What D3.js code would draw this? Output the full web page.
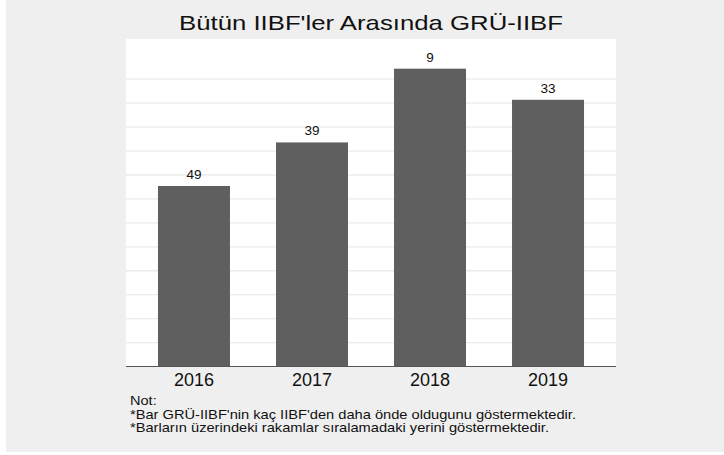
<!DOCTYPE html>
<html><head><meta charset="utf-8">
<script src="https://cdn.jsdelivr.net/npm/d3@7"></script>
<style>body{margin:0;background:#fff}svg{display:block}</style>
</head><body><svg id="c" width="724" height="455"></svg>
<script>
const years = ["2016","2017","2018","2019"];
const ahead = [37.7, 46.8, 62.2, 55.7];
const ranks = ["49","39","9","33"];
const gridTicks = [5,10,15,20,25,30,35,40,45,50,55,60];
const title = "Bütün IIBF'ler Arasında GRÜ-IIBF";
const notes = ["Not:", "*Bar GRÜ-IIBF'nin kaç IIBF'den daha önde oldugunu göstermektedir.", "*Barların üzerindeki rakamlar sıralamadaki yerini göstermektedir."];
const noteWidths = [26.7, 446, 419];

const svg = d3.select("#c");
const font = "'Liberation Sans', Arial, Helvetica, sans-serif";
svg.append("rect").attr("x",6).attr("y",0).attr("width",718).attr("height",452).attr("fill","#efefef");
const L=126,R=616,T=39,B=366.5;
svg.append("rect").attr("x",L).attr("y",T).attr("width",R-L).attr("height",B-T).attr("fill","#fff");
const x = d3.scaleBand().domain(years).range([L,R]).paddingInner(0.39).paddingOuter(0.271);
const y = d3.scaleLinear().domain([0,68.4]).range([B,T]);
svg.append("g").selectAll("line").data(gridTicks).join("line")
  .attr("x1",L).attr("x2",R).attr("y1",d=>y(d)).attr("y2",d=>y(d))
  .attr("stroke","#ebebeb").attr("stroke-width",1.3);
svg.append("g").selectAll("rect").data(years).join("rect")
  .attr("x",d=>x(d)).attr("width",x.bandwidth())
  .attr("y",(d,i)=>y(ahead[i])).attr("height",(d,i)=>B-y(ahead[i]))
  .attr("fill","#5f5f5f");
svg.append("g").selectAll("text").data(years).join("text")
  .attr("x",d=>x(d)+x.bandwidth()/2).attr("y",(d,i)=>y(ahead[i])-7)
  .attr("text-anchor","middle").attr("font-family",font).attr("font-size",13.5).attr("fill","#111")
  .text((d,i)=>ranks[i]);
svg.append("line").attr("x1",L).attr("x2",R).attr("y1",B).attr("y2",B).attr("stroke","#555").attr("stroke-width",1.2);
const xa = svg.append("g").attr("transform",`translate(0,${B})`).call(d3.axisBottom(x).tickSize(0).tickPadding(0));
xa.select(".domain").remove();
xa.selectAll("text").attr("font-family",font).attr("font-size",18).attr("fill","#111").attr("dy",null).attr("y",19.3);
svg.append("text").attr("x",(L+R)/2).attr("y",29.5).attr("text-anchor","middle")
  .attr("font-family",font).attr("font-size",21).attr("fill","#111")
  .attr("textLength",384).attr("lengthAdjust","spacingAndGlyphs").text(title);
svg.append("g").selectAll("text").data(notes).join("text")
  .attr("x",130).attr("y",(d,i)=>405+i*13.7)
  .attr("font-family",font).attr("font-size",13).attr("fill","#111")
  .attr("textLength",(d,i)=>noteWidths[i]).attr("lengthAdjust","spacingAndGlyphs").text(d=>d);
</script></body></html>
